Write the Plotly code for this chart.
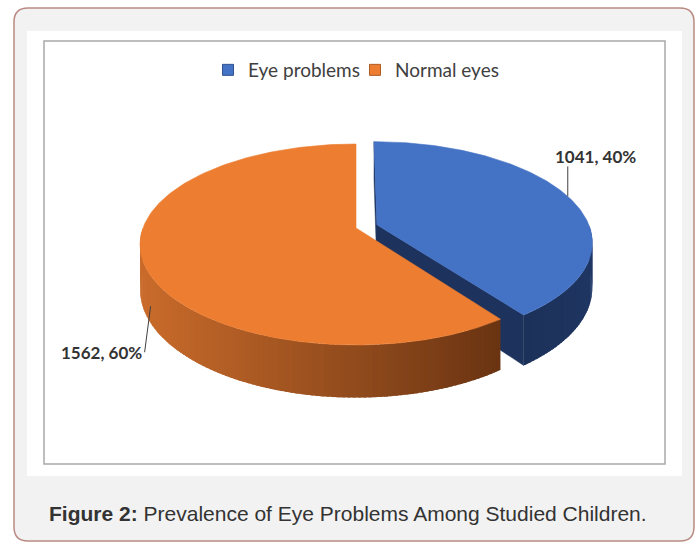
import numpy as np
import plotly.graph_objects as go

# ---------------- data ----------------
labels = ["Eye problems", "Normal eyes"]
values = [1041, 1562]

# ---------------- style ----------------
top_colors = ["#4472C4", "#ED7D31"]
side_colors = [("#213969", "#1c3159"), ("#c96b2b", "#6a3412")]
cut_colors = ["#1d335d", "#8a4616"]
explode = [0.104, 0.0]

W, H = 699, 545
CX, R, A, B, C, DEPTH = 356, 213, 60.4, 228, -0.164, 44


def proj(u, v, d):
    den = 1 + C * v
    return CX + R * u / den, (A * v + B + DEPTH * d) / den


def rim(theta, off, d, r=1.0):
    t = np.radians(theta)
    return proj(off[0] + r * np.sin(t), off[1] - r * np.cos(t), d)


def hex2rgb(h):
    h = h.lstrip("#")
    return [int(h[i:i + 2], 16) for i in (0, 2, 4)]


def mix(c0, c1, t):
    a, b = hex2rgb(c0), hex2rgb(c1)
    t = min(max(t, 0), 1)
    return "rgb(%d,%d,%d)" % tuple(round(a[i] + (b[i] - a[i]) * t) for i in range(3))


def poly(xs, ys, color, lw=0.8):
    return go.Scatter(x=list(xs) + [xs[0]], y=list(ys) + [ys[0]], mode="lines",
                      fill="toself", fillcolor=color,
                      line=dict(color=color, width=lw),
                      hoverinfo="skip", showlegend=False)


total = float(sum(values))
fracs = [v / total for v in values]
starts = np.cumsum([0] + fracs[:-1]) * 360
ends = starts + np.array(fracs) * 360

fig = go.Figure()

for i in range(len(values)):
    s, e = starts[i], ends[i]
    mid = (s + e) / 2
    off = (explode[i] * np.sin(np.radians(mid)), -explode[i] * np.cos(np.radians(mid)))
    if explode[i] > 0:
        a0 = proj(off[0], off[1], 0); a1 = proj(off[0], off[1], 1)
        r0 = rim(s, off, 0); r1 = rim(s, off, 1)
        fig.add_trace(poly([r0[0], a0[0], a1[0], r1[0]], [r0[1], a0[1], a1[1], r1[1]], cut_colors[i], 0.5))
        r0 = rim(e, off, 0); r1 = rim(e, off, 1)
        fig.add_trace(poly([a0[0], r0[0], r1[0], a1[0]], [a0[1], r0[1], r1[1], a1[1]], cut_colors[i], 0.5))
    # outer side (front facing part), shaded in overlapping strips
    lo, hi = max(s, 90), min(e, 270)
    if hi > lo:
        n = max(int((hi - lo) / 1.2), 2)
        th = np.linspace(lo, hi, n + 1)
        step = th[1] - th[0]
        xl = rim(270, (0, 0), 0)[0]
        xr = rim(144, (0, 0), 0)[0]
        for k in range(n):
            ta, tb = th[k], min(th[k + 1] + step * 0.7, hi)
            p0 = rim(ta, off, 0); p1 = rim(tb, off, 0)
            q1 = rim(tb, off, 1); q0 = rim(ta, off, 1)
            xm = rim((th[k] + th[k + 1]) / 2, off, 0)[0]
            if i == 1:
                col = mix(side_colors[i][1], side_colors[i][0], (xr - xm) / (xr - xl))
            else:
                col = mix(side_colors[i][0], side_colors[i][1], (th[k] - lo) / max(hi - lo, 1))
            fig.add_trace(poly([p0[0], p1[0], q1[0], q0[0]], [p0[1], p1[1], q1[1], q0[1]], col, 0))
    # top face
    th = np.linspace(s, e, 200)
    pts = [rim(t, off, 0) for t in th]
    ap = proj(off[0], off[1], 0)
    fig.add_trace(poly([ap[0]] + [p[0] for p in pts], [ap[1]] + [p[1] for p in pts], top_colors[i], 0.6))

# data labels with leader lines
pct = [round(100 * f) for f in fracs]
for i in range(len(values)):
    mid = (starts[i] + ends[i]) / 2
    off = (explode[i] * np.sin(np.radians(mid)), -explode[i] * np.cos(np.radians(mid)))
    txt = "<b>%d, %d%%</b>" % (values[i], pct[i])
    if i == 0:
        ax, ay = rim(mid, off, 0)
        lx, ly = [ax, ax], [ay, ay - 30]
        fig.add_annotation(x=ax + 28, y=ay - 40, text=txt, showarrow=False,
                           xanchor="center", yanchor="middle",
                           font=dict(family="Lato", size=17, color="#333333"))
    else:
        ax, ay = rim(mid, off, 1)
        lx, ly = [ax + 8, ax + 2], [ay, ay + 46]
        fig.add_annotation(x=ax + 1, y=ay + 46, text=txt, showarrow=False,
                           xanchor="right", yanchor="middle",
                           font=dict(family="Lato", size=17, color="#333333"))
    fig.add_trace(go.Scatter(x=lx, y=ly, mode="lines", line=dict(color="#404040", width=1),
                             hoverinfo="skip", showlegend=False))

# legend entries
for i in range(len(values)):
    fig.add_trace(go.Scatter(x=[None], y=[None], mode="markers", name=labels[i],
                             marker=dict(symbol="square", size=11, color=top_colors[i],
                                         line=dict(color="#2f528f" if i == 0 else "#ae5a21", width=1))))

# caption
fig.add_annotation(x=47, y=513, text="<b>Figure 2:</b> Prevalence of Eye Problems Among Studied Children.",
                   showarrow=False, xanchor="left", yanchor="middle",
                   font=dict(family="Liberation Sans", size=21, color="#333333"))

# frame shapes
r = 14
x0, y0, x1, y1 = 14, 8, 694, 541
path = (f"M{x0+r},{y0} L{x1-r},{y0} Q{x1},{y0} {x1},{y0+r} L{x1},{y1-r} Q{x1},{y1} {x1-r},{y1} "
        f"L{x0+r},{y1} Q{x0},{y1} {x0},{y1-r} L{x0},{y0+r} Q{x0},{y0} {x0+r},{y0} Z")
fig.add_shape(type="path", path=path, xref="x", yref="y", layer="below",
              fillcolor="#f2f2f2", line=dict(color="#b98a82", width=1.5))
fig.add_shape(type="rect", x0=27, y0=31, x1=682, y1=476, xref="x", yref="y", layer="below",
              fillcolor="#ffffff", line=dict(width=0))
fig.add_shape(type="rect", x0=44, y0=41, x1=665, y1=464, xref="x", yref="y", layer="below",
              fillcolor="#ffffff", line=dict(color="#a9a9a9", width=1.5))

fig.update_layout(
    width=W, height=H, margin=dict(l=0, r=0, t=0, b=0),
    paper_bgcolor="#ffffff", plot_bgcolor="#ffffff",
    xaxis=dict(range=[0, W], visible=False, fixedrange=True, domain=[0, 1]),
    yaxis=dict(range=[H, 0], visible=False, fixedrange=True, domain=[0, 1]),
    showlegend=True,
    legend=dict(orientation="h", x=208 / W, y=1 - 70 / H, xanchor="left", yanchor="middle",
                entrywidth=102, entrywidthmode="pixels",
                font=dict(family="Lato", size=19, color="#404040"),
                bgcolor="rgba(0,0,0,0)", itemclick=False, itemdoubleclick=False),
    hovermode=False,
)

fig.write_html("out.html")
